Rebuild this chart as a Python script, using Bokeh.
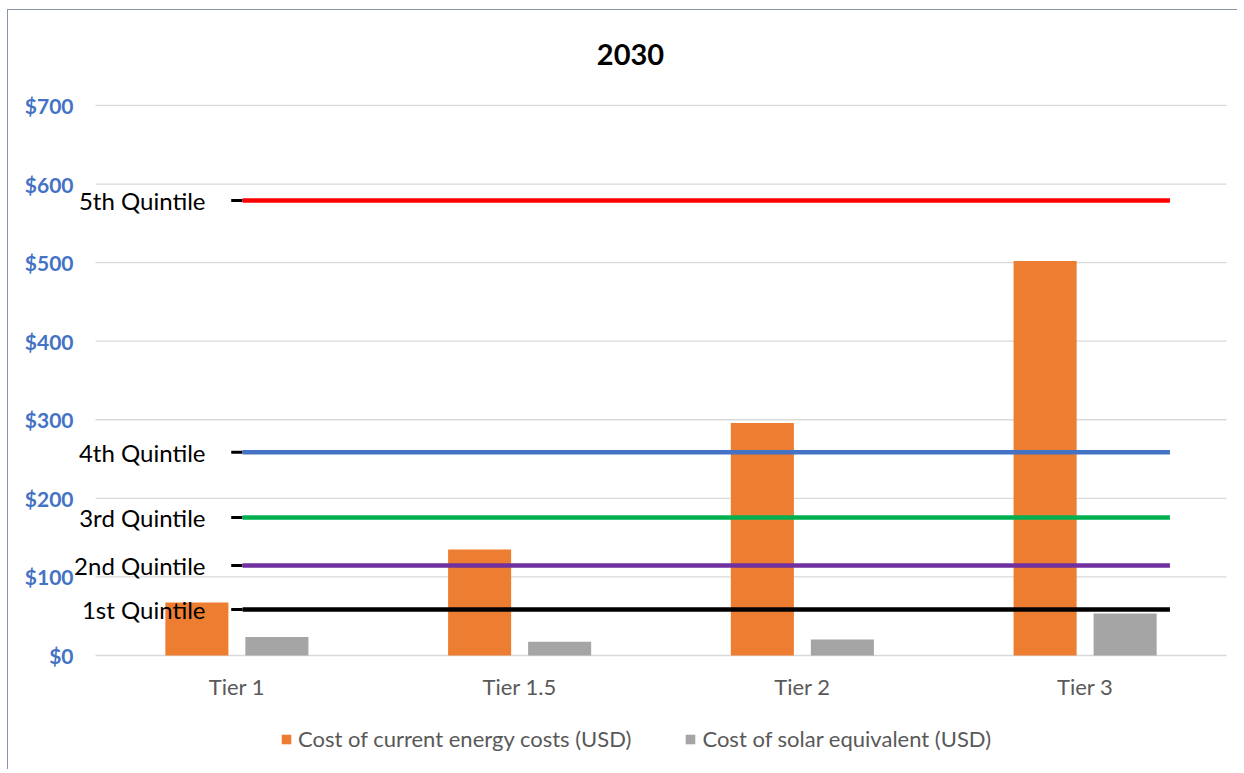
from bokeh.plotting import figure
from bokeh.models import (Range1d, ColumnDataSource, LabelSet, Label, Legend, LegendItem)
from bokeh.core.properties import value
from bokeh.embed import file_html
from bokeh.resources import INLINE

# ---- data ----
tiers = ["Tier 1", "Tier 1.5", "Tier 2", "Tier 3"]
current_costs = [67.5, 135, 296, 502]
solar_costs = [23.5, 17.5, 20.5, 53.5]
quintile_names = ["1st Quintile", "2nd Quintile", "3rd Quintile", "4th Quintile", "5th Quintile"]
quintile_values = [58.5, 114.5, 175.6, 258.5, 579]
quintile_colors = ["#000000", "#7030A0", "#00B050", "#4472C4", "#FF0000"]
y_ticks = [0, 100, 200, 300, 400, 500, 600, 700]
y_tick_labels = ["$0", "$100", "$200", "$300", "$400", "$500", "$600", "$700"]

FONT = "Lato"
ORANGE = "#ED7D31"
GRAY = "#A5A5A5"

# the frame covers the whole chart area; the value scale 0..700 and the 4 categories sit inside it
p = figure(width=1230, height=760, output_backend="svg", toolbar_location=None,
           x_range=Range1d(-0.3042, 4.0354), y_range=Range1d(-140, 818.3),
           min_border_left=1, min_border_right=2, min_border_top=2, min_border_bottom=5)
p.styles = {"border-left": "1px solid #8C95A8", "border-top": "1px solid #8C95A8",
            "margin-left": "7px", "margin-top": "9px"}
p.outline_line_color = None
p.background_fill_color = "white"
p.border_fill_color = "white"
p.xaxis.visible = False
p.yaxis.visible = False
p.grid.visible = False

# value gridlines and labels
gsrc = ColumnDataSource(dict(y=y_ticks, lab=y_tick_labels,
                             x0=[0] * len(y_ticks), x1=[len(tiers)] * len(y_ticks),
                             lx=[-0.0778] * len(y_ticks)))
p.segment(x0="x0", x1="x1", y0="y", y1="y", source=gsrc, line_color="#D9D9D9", line_width=1.3)
p.add_layout(LabelSet(x="lx", y="y", text="lab", source=gsrc, text_align="right",
                      text_baseline="middle", text_font=value(FONT), text_font_size=value("21px"),
                      text_font_style="bold", text_color="#4472C4"))

centers = [i + 0.5 for i in range(len(tiers))]
src = ColumnDataSource(dict(
    x_cur=[c - 0.1415 for c in centers],
    x_sol=[c + 0.1415 for c in centers],
    cur=current_costs, sol=solar_costs,
    cx=centers, ly=[-50] * len(tiers), tier=tiers))

r_cur = p.vbar(x="x_cur", top="cur", width=0.223, source=src, fill_color=ORANGE, line_color=None)
r_sol = p.vbar(x="x_sol", top="sol", width=0.223, source=src, fill_color=GRAY, line_color=None)

# category labels
p.add_layout(LabelSet(x="cx", y="ly", text="tier", source=src, text_align="center",
                      text_baseline="alphabetic", text_font=value(FONT),
                      text_font_size=value("22px"), text_color="#595959"))

# quintile lines
qsrc = ColumnDataSource(dict(
    y=quintile_values, name=quintile_names, color=quintile_colors,
    x0=[0.52] * len(quintile_values), x1=[3.8] * len(quintile_values),
    s0=[0.48] * len(quintile_values), lx=[0.389] * len(quintile_values)))
p.segment(x0="s0", x1="x0", y0="y", y1="y", source=qsrc, line_color="black", line_width=3)
p.segment(x0="x0", x1="x1", y0="y", y1="y", source=qsrc, line_color="color", line_width=4.5)
p.add_layout(LabelSet(x="lx", y="y", text="name", source=qsrc, text_align="right",
                      text_baseline="middle", text_font=value(FONT), text_font_size=value("24px"),
                      text_color="black"))

# title
p.add_layout(Label(x=1.892, y=765, text="2030", text_align="center", text_baseline="middle",
                   text_font=FONT, text_font_size="29px", text_font_style="bold",
                   text_color="black"))

legend = Legend(items=[LegendItem(label="Cost of current energy costs (USD)", renderers=[r_cur]),
                       LegendItem(label="Cost of solar equivalent (USD)", renderers=[r_sol])],
                orientation="horizontal", location=(271, 13), padding=0, margin=0,
                spacing=53, label_standoff=6, glyph_width=12, glyph_height=12,
                label_text_font=FONT, label_text_font_size="22px", label_text_color="#595959",
                border_line_color=None, background_fill_alpha=0)
p.add_layout(legend)

open("out.html", "w").write(file_html(p, INLINE))
